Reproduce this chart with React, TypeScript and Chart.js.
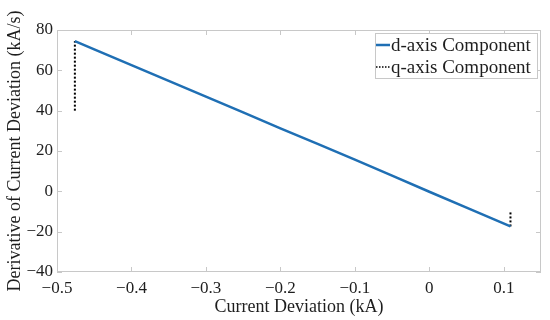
import React, { useEffect, useRef } from "react";
import { Chart, registerables } from "chart.js";

Chart.register(...registerables);

const dX = [-0.476, -0.45, -0.4, -0.35, -0.3, -0.25, -0.2, -0.15, -0.1, -0.05, 0, 0.05, 0.109];
const dY = [74.5, 70.4, 62.6, 54.8, 47.0, 39.2, 31.2, 23.5, 15.7, 7.8, -0.2, -8.1, -17.4];
const qStartX = [-0.476, -0.476];
const qStartY = [40, 74.5];
const qEndX = [0.109, 0.109];
const qEndY = [-17.4, -10];
const xTicks = [-0.5, -0.4, -0.3, -0.2, -0.1, 0, 0.1];
const yTicks = [-40, -20, 0, 20, 40, 60, 80];
const legendLabels = ["d-axis Component", "q-axis Component"];

const BLUE = "#1f6fb4";
const FONT = "'Liberation Serif', 'Times New Roman', serif";
const TEXT = "#1e1e1e";

const fmt = (v: number) => {
  const s = String(Math.round(v * 1000) / 1000);
  return s.replace("-", "\u2212");
};

const boxPlugin = {
  id: "boxPlugin",
  afterDraw(chart: any) {
    const { ctx, chartArea: a, scales } = chart;
    ctx.save();
    ctx.strokeStyle = "#c8c8c8";
    ctx.lineWidth = 1;
    ctx.strokeRect(a.left + 0.5, a.top + 0.5, a.right - a.left - 1, a.bottom - a.top - 1);
    const tl = 5;
    ctx.beginPath();
    for (const v of xTicks) {
      const px = Math.round(scales.x.getPixelForValue(v)) + 0.5;
      ctx.moveTo(px, a.bottom);
      ctx.lineTo(px, a.bottom - tl);
      ctx.moveTo(px, a.top);
      ctx.lineTo(px, a.top + tl);
    }
    for (const v of yTicks) {
      const py = Math.round(scales.y.getPixelForValue(v)) + 0.5;
      ctx.moveTo(a.left, py);
      ctx.lineTo(a.left + tl, py);
      ctx.moveTo(a.right, py);
      ctx.lineTo(a.right - tl, py);
    }
    ctx.stroke();

    // legend
    const lx = 375, ly = 33, lw = 162, lh = 45;
    ctx.fillStyle = "#ffffff";
    ctx.fillRect(lx, ly, lw, lh);
    ctx.strokeStyle = "#c8c8c8";
    ctx.strokeRect(lx + 0.5, ly + 0.5, lw, lh);
    ctx.font = `19px ${FONT}`;
    ctx.textBaseline = "middle";
    ctx.fillStyle = TEXT;
    const rows = [45, 67];
    ctx.strokeStyle = BLUE;
    ctx.lineWidth = 2.5;
    ctx.beginPath();
    ctx.moveTo(376, rows[0]);
    ctx.lineTo(390, rows[0]);
    ctx.stroke();
    ctx.strokeStyle = "#000";
    ctx.lineWidth = 1.5;
    ctx.setLineDash([1.5, 1.5]);
    ctx.beginPath();
    ctx.moveTo(376, rows[1]);
    ctx.lineTo(390, rows[1]);
    ctx.stroke();
    ctx.setLineDash([]);
    ctx.fillText(legendLabels[0], 391, rows[0] + 1);
    ctx.fillText(legendLabels[1], 391, rows[1] + 1);
    ctx.restore();
  },
};

export default function App() {
  const ref = useRef<HTMLCanvasElement>(null);
  useEffect(() => {
    document.body.style.margin = "0";
    const chart = new Chart(ref.current!, {
      type: "scatter",
      data: {
        datasets: [
          {
            label: legendLabels[0],
            data: dX.map((x, i) => ({ x, y: dY[i] })),
            showLine: true,
            borderColor: BLUE,
            borderWidth: 2.5,
            pointRadius: 0,
            fill: false,
          },
          {
            label: legendLabels[1],
            data: qStartX.map((x, i) => ({ x, y: qStartY[i] })),
            showLine: true,
            borderColor: "#000",
            borderWidth: 2,
            borderDash: [2, 2],
            pointRadius: 0,
            fill: false,
          },
          {
            label: legendLabels[1] + " end",
            data: qEndX.map((x, i) => ({ x, y: qEndY[i] })),
            showLine: true,
            borderColor: "#000",
            borderWidth: 2,
            borderDash: [2, 2],
            pointRadius: 0,
            fill: false,
          },
        ],
      },
      options: {
        responsive: false,
        animation: false,
        layout: { padding: { top: 30, right: 9, left: 0, bottom: 0 } },
        plugins: { legend: { display: false }, tooltip: { enabled: false } },
        scales: {
          x: {
            type: "linear",
            min: -0.5,
            max: 0.15,
            afterBuildTicks: (s: any) => {
              s.ticks = xTicks.map((v) => ({ value: v }));
            },
            afterFit: (s: any) => {
              s.height = 48;
            },
            grid: { display: false, drawTicks: false },
            border: { display: false },
            ticks: {
              color: TEXT,
              font: { family: FONT, size: 17 },
              padding: 6,
              maxRotation: 0,
              callback: (v: any) => fmt(Number(v)),
            },
            title: {
              display: true,
              text: "Current Deviation (kA)",
              color: TEXT,
              font: { family: FONT, size: 18 },
              padding: { top: 0, bottom: 2 },
            },
          },
          y: {
            type: "linear",
            min: -40,
            max: 80,
            afterBuildTicks: (s: any) => {
              s.ticks = yTicks.map((v) => ({ value: v }));
            },
            afterFit: (s: any) => {
              s.width = 57;
            },
            grid: { display: false, drawTicks: false },
            border: { display: false },
            ticks: {
              color: TEXT,
              font: { family: FONT, size: 17 },
              padding: 4,
              callback: (v: any) => fmt(Number(v)),
            },
            title: {
              display: true,
              text: "Derivative of Current Deviation (kA/s)",
              color: TEXT,
              font: { family: FONT, size: 18 },
              padding: { top: 4, bottom: 0 },
            },
          },
        },
      },
      plugins: [boxPlugin],
    });
    return () => chart.destroy();
  }, []);
  return <canvas ref={ref} width={550} height={320} style={{ display: "block" }} />;
}
